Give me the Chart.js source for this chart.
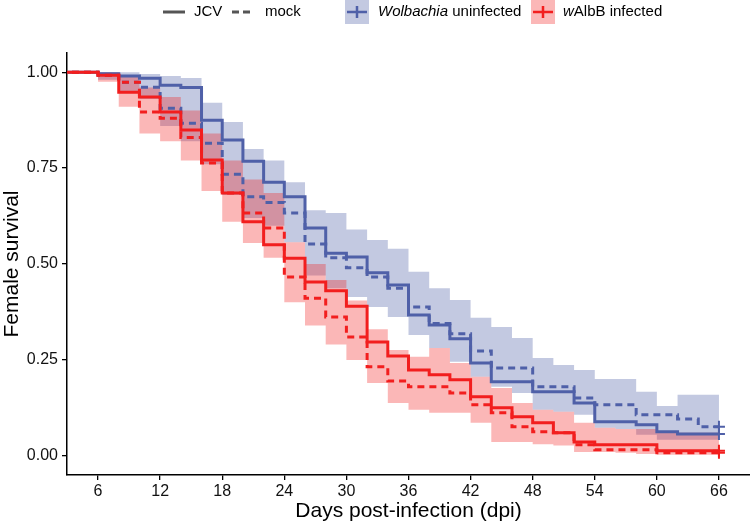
<!DOCTYPE html>
<html>
<head>
<meta charset="utf-8">
<script src="https://cdn.jsdelivr.net/npm/chart.js@4.4.0/dist/chart.umd.min.js"></script>
<style>
html, body { margin: 0; padding: 0; background: #fff; }
</style>
</head>
<body>
<canvas id="canvas" width="750" height="524"></canvas>
<script>
// step days (value holds from this day until the next one)
var days = [0, 6, 8, 10, 12, 14, 16, 18, 20, 22, 24, 26, 28, 30, 32, 34, 36, 38, 40, 42, 44, 46, 48, 50, 52, 54, 56, 58, 60, 62, 64, 66];

// survival curves
var jcvUninf  = [1, 0.996, 0.99, 0.984, 0.966, 0.96, 0.875, 0.823, 0.768, 0.713, 0.675, 0.594, 0.528, 0.518, 0.477, 0.445, 0.367, 0.341, 0.305, 0.242, 0.193, 0.193, 0.167, 0.167, 0.138, 0.089, 0.089, 0.081, 0.0625, 0.057, 0.057, 0.057];
var mockUninf = [1, 0.992, 0.974, 0.961, 0.906, 0.867, 0.815, 0.734, 0.675, 0.66, 0.633, 0.552, 0.516, 0.49, 0.466, 0.437, 0.388, 0.345, 0.318, 0.273, 0.229, 0.229, 0.18, 0.18, 0.151, 0.133, 0.133, 0.107, 0.107, 0.096, 0.076, 0.076];
var jcvWalb   = [1, 0.992, 0.948, 0.935, 0.896, 0.849, 0.771, 0.685, 0.61, 0.55, 0.515, 0.453, 0.43, 0.39, 0.297, 0.26, 0.224, 0.211, 0.198, 0.154, 0.125, 0.102, 0.086, 0.06, 0.036, 0.029, 0.029, 0.029, 0.013, 0.013, 0.013, 0.013];
var mockWalb  = [1, 0.992, 0.974, 0.896, 0.88, 0.83, 0.763, 0.685, 0.633, 0.594, 0.466, 0.411, 0.362, 0.31, 0.232, 0.195, 0.18, 0.18, 0.164, 0.133, 0.112, 0.076, 0.0625, 0.06, 0.029, 0.016, 0.016, 0.016, 0.008, 0.008, 0.008, 0.008];

// confidence bands
var uninfHi = [1, 1, 1, 0.995, 0.99, 0.985, 0.92, 0.87, 0.8, 0.77, 0.713, 0.64, 0.633, 0.59, 0.5625, 0.54, 0.48, 0.437, 0.406, 0.36, 0.336, 0.307, 0.255, 0.237, 0.224, 0.2, 0.2, 0.167, 0.13, 0.159, 0.159, 0.159];
var uninfLo = [1, 0.98, 0.95, 0.93, 0.86, 0.82, 0.76, 0.68, 0.62, 0.6, 0.557, 0.47, 0.437, 0.414, 0.388, 0.362, 0.315, 0.281, 0.245, 0.206, 0.18, 0.164, 0.12, 0.115, 0.107, 0.073, 0.07, 0.055, 0.042, 0.042, 0.042, 0.042];
var walbHi  = [1, 1, 0.99, 0.96, 0.935, 0.9, 0.84, 0.77, 0.72, 0.685, 0.557, 0.5, 0.458, 0.405, 0.33, 0.276, 0.258, 0.281, 0.242, 0.206, 0.177, 0.138, 0.12, 0.115, 0.086, 0.073, 0.07, 0.07, 0.06, 0.06, 0.06, 0.06];
var walbLo  = [1, 0.975, 0.91, 0.84, 0.82, 0.77, 0.69, 0.61, 0.555, 0.516, 0.4, 0.34, 0.29, 0.25, 0.19, 0.138, 0.12, 0.112, 0.112, 0.086, 0.036, 0.036, 0.03, 0.027, 0.01, 0.01, 0.008, 0.005, 0.003, 0.003, 0.003, 0.003];

var xTicks = [6, 12, 18, 24, 30, 36, 42, 48, 54, 60, 66];
var yTicks = [0, 0.25, 0.5, 0.75, 1];
var yTickLabels = ['0.00', '0.25', '0.50', '0.75', '1.00'];

var blue = '#4F60A8', red = '#F21E1E';
var blueFill = 'rgba(79,96,168,0.34)', redFill = 'rgba(242,30,30,0.32)';
var fontFam = '"Liberation Sans", Arial, Helvetica, sans-serif';

Chart.defaults.font.family = fontFam;

function pts(arr) {
    return days.map(function (d, i) { return { x: d, y: arr[i] }; });
}

// 'before' in Chart.js = horizontal first, then drop (Kaplan-Meier style)
function band(arr, fill, order, fillTo) {
    return {
        data: pts(arr),
        stepped: 'before',
        borderWidth: 0,
        pointRadius: 0,
        backgroundColor: fill,
        fill: fillTo,
        order: order
    };
}

function curve(arr, color, dash, order) {
    return {
        data: pts(arr),
        stepped: 'before',
        borderColor: color,
        borderWidth: 3,
        borderDash: dash,
        pointRadius: 0,
        fill: false,
        order: order
    };
}

var keyPlugin = {
    id: 'keyPlugin',
    afterDraw: function (chart) {
        var c = chart.ctx;
        c.save();
        c.textBaseline = 'middle';
        c.fillStyle = '#000';
        c.font = '15px ' + fontFam;
        // linetype keys
        c.strokeStyle = '#555';
        c.lineWidth = 3;
        c.beginPath(); c.moveTo(163, 12); c.lineTo(185, 12); c.stroke();
        c.fillText('JCV', 194, 12);
        c.setLineDash([7, 4]);
        c.beginPath(); c.moveTo(232, 12); c.lineTo(254, 12); c.stroke();
        c.setLineDash([]);
        c.fillText('mock', 265, 12);
        // colour keys
        function box(x, fill, col) {
            c.fillStyle = fill;
            c.fillRect(x, 0, 24, 24);
            c.strokeStyle = col;
            c.lineWidth = 2.5;
            c.beginPath();
            c.moveTo(x + 2, 12); c.lineTo(x + 22, 12);
            c.moveTo(x + 12, 6); c.lineTo(x + 12, 18);
            c.stroke();
        }
        box(345, blueFill, blue);
        box(531, redFill, red);
        c.fillStyle = '#000';
        c.font = 'italic 15px ' + fontFam;
        c.fillText('Wolbachia', 378, 12);
        var w = c.measureText('Wolbachia').width;
        c.font = '15px ' + fontFam;
        c.fillText(' uninfected', 378 + w, 12);
        c.font = 'italic 15px ' + fontFam;
        c.fillText('w', 563, 12);
        w = c.measureText('w').width;
        c.font = '15px ' + fontFam;
        c.fillText('AlbB infected', 563 + w, 12);
        c.restore();
    }
};

var last = days.length - 1;
var ctx = document.getElementById('canvas').getContext('2d');
var myChart = new Chart(ctx, {
    type: 'line',
    data: {
        datasets: [
            band(uninfHi, blueFill, 3, '+1'),
            band(uninfLo, blueFill, 3, false),
            band(walbHi, redFill, 2, '+1'),
            band(walbLo, redFill, 2, false),
            curve(jcvUninf, blue, [], 1),
            curve(mockUninf, blue, [7, 5], 1),
            curve(jcvWalb, red, [], 0),
            curve(mockWalb, red, [7, 5], 0),
            {
                data: [
                    { x: days[last], y: jcvUninf[last] },
                    { x: days[last], y: mockUninf[last] },
                    { x: days[last], y: jcvWalb[last] },
                    { x: days[last], y: mockWalb[last] }
                ],
                showLine: false,
                pointStyle: 'cross',
                pointRadius: 6,
                pointBorderWidth: 2,
                pointBorderColor: [blue, blue, red, red],
                clip: false,
                order: 0
            }
        ]
    },
    options: {
        responsive: false,
        animation: false,
        layout: { autoPadding: false, padding: { top: 53, right: 0, left: 0, bottom: 0 } },
        plugins: {
            legend: { display: false },
            tooltip: { enabled: false }
        },
        scales: {
            x: {
                type: 'linear',
                min: 3,
                max: 69,
                afterBuildTicks: function (s) { s.ticks = xTicks.map(function (v) { return { value: v }; }); },
                afterFit: function (s) { s.height = 49; s.paddingRight = 0; s.paddingLeft = 0; },
                grid: { display: true, drawOnChartArea: false, drawTicks: true, tickLength: 5, color: '#000', lineWidth: 1.3 },
                border: { display: true, color: '#000', width: 1.5 },
                ticks: { color: '#111', font: { size: 16 }, padding: 2, maxRotation: 0, autoSkip: false },
                title: { display: true, text: 'Days post-infection (dpi)', color: '#000', font: { size: 21 }, padding: { top: 0, bottom: 0 } }
            },
            y: {
                min: -0.05,
                max: 1.05,
                afterBuildTicks: function (s) { s.ticks = yTicks.map(function (v) { return { value: v }; }); },
                afterFit: function (s) { s.width = 67; s.paddingTop = 0; s.paddingBottom = 0; },
                grid: { display: true, drawOnChartArea: false, drawTicks: true, tickLength: 5, color: '#000', lineWidth: 1.3 },
                border: { display: true, color: '#000', width: 1.5 },
                ticks: {
                    color: '#111', font: { size: 16 }, padding: 4,
                    callback: function (v, i) { return yTickLabels[i]; }
                },
                title: { display: true, text: 'Female survival', color: '#000', font: { size: 21 }, padding: { top: 0, bottom: 0 } }
            }
        }
    },
    plugins: [keyPlugin]
});
</script>
</body>
</html>
